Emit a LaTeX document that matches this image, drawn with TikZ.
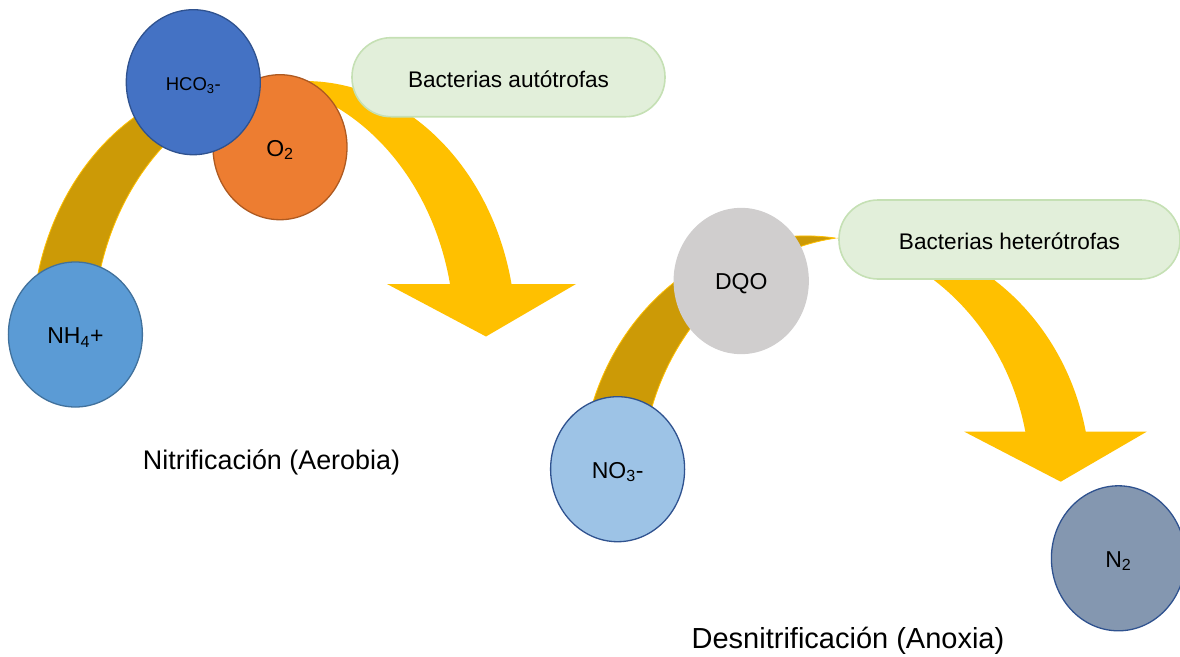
\documentclass[tikz,border=0pt]{standalone}
\usepackage{fontspec}
\setmainfont{Liberation Sans}
\usetikzlibrary{shapes.geometric}

\definecolor{amber}{HTML}{FFC000}
\definecolor{amberdark}{HTML}{CC9A06}
\definecolor{bicarb}{HTML}{4472C4}
\definecolor{bicarbline}{HTML}{2F528F}
\definecolor{oxy}{HTML}{ED7D31}
\definecolor{oxyline}{HTML}{AE5A21}
\definecolor{ammon}{HTML}{5B9BD5}
\definecolor{ammonline}{HTML}{41719C}
\definecolor{dqo}{HTML}{D0CECE}
\definecolor{nitrate}{HTML}{9DC3E6}
\definecolor{navyline}{HTML}{2F528F}
\definecolor{nitro}{HTML}{8497B0}
\definecolor{boxfill}{HTML}{E2EFDA}
\definecolor{boxline}{HTML}{C5E0B4}

\begin{document}
\begin{tikzpicture}[x=1pt,y=-1pt,
  species/.style={ellipse, inner sep=0pt, minimum width=134pt, minimum height=145pt,
    line width=1.3pt, text height=17.6pt, text depth=0pt,
    font=\fontsize{23}{27}\selectfont},
  bacteria/.style={rectangle, rounded corners=39pt, fill=boxfill, draw=boxline,
    line width=1.6pt, minimum height=79pt, inner sep=0pt,
    text height=19.9pt, text depth=0pt, font=\fontsize{22.6}{27}\selectfont},
  caption/.style={anchor=base, inner sep=0pt}
]
\useasboundingbox (0,0) rectangle (1180,656);

% ---- nitrification: curved arrow built from two shifted ellipses ----
\begin{scope}
  \clip (273.75,-5) rectangle (1180,285);
  \fill[amber, even odd rule]
    (243,336) ellipse [x radius=211.4pt, y radius=255pt]
    (304.5,336) ellipse [x radius=211.4pt, y radius=255pt];
\end{scope}
\fill[amber] (387,284) -- (576,284) -- (486,336.5) -- cycle;
\begin{scope}
  \clip (-5,-5) rectangle (273.75,336);
  \fill[amberdark, even odd rule]
    (243,336) ellipse [x radius=211.4pt, y radius=255pt]
    (304.5,336) ellipse [x radius=211.4pt, y radius=255pt];
  \draw[amber, line width=0.8pt]
    (243,336) ellipse [x radius=211.4pt, y radius=255pt]
    (304.5,336) ellipse [x radius=211.4pt, y radius=255pt];
\end{scope}

% ---- denitrification: curved arrow ----
\begin{scope}
  \clip (835.7,-5) rectangle (1180,432.7);
  \fill[amber, even odd rule]
    (805.5,481.7) ellipse [x radius=224.5pt, y radius=245.8pt]
    (865.9,481.7) ellipse [x radius=224.5pt, y radius=245.8pt];
\end{scope}
\fill[amber] (964.3,431.7) -- (1146.7,431.7) -- (1060.7,481.7) -- cycle;
\begin{scope}
  \clip (-5,-5) rectangle (835.7,481.7);
  \fill[amberdark, even odd rule]
    (805.5,481.7) ellipse [x radius=224.5pt, y radius=245.8pt]
    (865.9,481.7) ellipse [x radius=224.5pt, y radius=245.8pt];
  \draw[amber, line width=0.8pt]
    (805.5,481.7) ellipse [x radius=224.5pt, y radius=245.8pt]
    (865.9,481.7) ellipse [x radius=224.5pt, y radius=245.8pt];
\end{scope}

% ---- species ----
\node[species, fill=oxy, draw=oxyline] (o2) at (280,147.2) {O\textsubscript{2}};
\node[species, fill=bicarb, draw=bicarbline, text height=17pt,
      font=\fontsize{18.5}{22}\selectfont] (hco3) at (193.3,82.2) {HCO\textsubscript{3}-};
\node[species, fill=ammon, draw=ammonline] (nh4) at (75.4,334.5) {NH\textsubscript{4}+};
\node[species, fill=dqo, draw=dqo] (dqo) at (741.2,281) {DQO};
\node[species, fill=nitrate, draw=navyline] (no3) at (617.6,469.2) {NO\textsubscript{3}-};
\node[species, fill=nitro, draw=navyline] (n2) at (1118.4,558.3) {N\textsubscript{2}};

% ---- bacteria labels ----
\node[bacteria, minimum width=313pt] (auto) at (508.5,77.2) {Bacterias aut\'otrofas};
\node[bacteria, minimum width=341pt] (hetero) at (1009.5,239.5) {Bacterias heter\'otrofas};

% ---- process captions ----
\node[caption, font=\fontsize{26.9}{31}\selectfont] (nitri) at (271.5,469.3) {Nitrificación (Aerobia)};
\node[caption, font=\fontsize{29}{34}\selectfont] (desni) at (848,648.3) {Desnitrificación (Anoxia)};
\end{tikzpicture}
\end{document}
